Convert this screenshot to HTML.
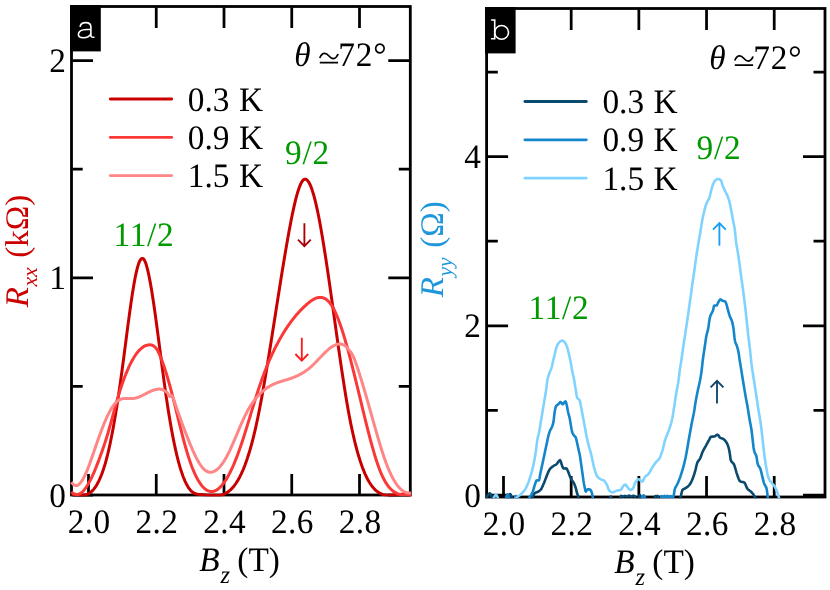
<!DOCTYPE html>
<html><head><meta charset="utf-8"><title>Figure</title>
<style>
html,body{margin:0;padding:0;background:#fff;}
svg{display:block;will-change:transform;}
text{font-family:"Liberation Serif",serif;text-rendering:geometricPrecision;}
text.m{font-family:"Liberation Mono",monospace;}
</style></head><body>
<svg width="830" height="590" viewBox="0 0 830 590">
<rect width="830" height="590" fill="#fff"/>
<defs><clipPath id="ca"><rect x="70" y="5" width="342" height="491.5"/></clipPath><clipPath id="cb"><rect x="485.2" y="7" width="341.2" height="491.2"/></clipPath></defs>
<rect x="71.5" y="6.5" width="338.8" height="488.5" fill="none" stroke="#000" stroke-width="2.8"/>
<rect x="486.6" y="8.5" width="338.4" height="488.5" fill="none" stroke="#000" stroke-width="2.8"/>
<path d="M88.50,7.5V28.0M88.50,494V474M156.25,7.5V28.0M156.25,494V474M224.00,7.5V28.0M224.00,494V474M291.75,7.5V28.0M291.75,494V474M359.50,7.5V28.0M359.50,494V474M72.5,495.00H93.0M409.3,495.00H388.3M72.5,277.75H93.0M409.3,277.75H388.3M72.5,60.50H93.0M409.3,60.50H388.3M72.5,386.40H82.7M409.3,386.40H398.8M72.5,169.10H82.7M409.3,169.10H398.8" stroke="#000" stroke-width="2.75" fill="none"/>
<path d="M503.50,9.5V30.0M503.50,496V476M571.18,9.5V30.0M571.18,496V476M638.86,9.5V30.0M638.86,496V476M706.54,9.5V30.0M706.54,496V476M774.22,9.5V30.0M774.22,496V476M487.6,495.00H508.1M824.0,495.00H803.0M487.6,325.80H508.1M824.0,325.80H803.0M487.6,156.60H508.1M824.0,156.60H803.0M487.6,410.40H497.8M824.0,410.40H813.5M487.6,241.20H497.8M824.0,241.20H813.5M487.6,72.00H497.8M824.0,72.00H813.5" stroke="#000" stroke-width="2.75" fill="none"/>
<g clip-path="url(#ca)" fill="none" stroke-width="3" stroke-linejoin="round">
<path d="M71.5,494.3 L72.0,494.4 L72.5,494.4 L73.0,494.5 L73.5,494.5 L74.0,494.6 L74.5,494.6 L75.0,494.7 L75.5,494.8 L76.0,494.8 L76.5,494.9 L77.0,495.0 L77.5,495.0 L78.0,495.1 L78.5,495.2 L79.0,495.2 L79.5,495.2 L80.0,495.2 L80.5,495.2 L81.0,495.2 L81.5,495.2 L82.0,495.2 L82.5,495.2 L83.0,495.2 L83.5,495.2 L84.0,495.1 L84.5,495.1 L85.0,495.0 L85.5,494.8 L86.0,494.7 L86.5,494.5 L87.0,494.4 L87.5,494.1 L88.0,493.9 L88.5,493.7 L89.0,493.4 L89.5,493.1 L90.0,492.7 L90.5,492.4 L91.0,492.0 L91.5,491.5 L92.0,491.1 L92.5,490.6 L93.0,490.0 L93.5,489.5 L94.0,488.9 L94.5,488.2 L95.0,487.6 L95.5,486.8 L96.0,486.1 L96.5,485.3 L97.0,484.4 L97.5,483.5 L98.0,482.6 L98.5,481.6 L99.0,480.6 L99.5,479.5 L100.0,478.4 L100.5,477.2 L101.0,476.0 L101.5,474.8 L102.0,473.4 L102.5,472.0 L103.0,470.6 L103.5,469.1 L104.0,467.6 L104.5,466.0 L105.0,464.3 L105.5,462.6 L106.0,460.8 L106.5,458.9 L107.0,457.0 L107.5,455.0 L108.0,453.0 L108.5,450.9 L109.0,448.7 L109.5,446.5 L110.0,444.2 L110.5,441.8 L111.0,439.3 L111.5,436.8 L112.0,434.2 L112.5,431.6 L113.0,428.9 L113.5,426.2 L114.0,423.3 L114.5,420.5 L115.0,417.5 L115.5,414.5 L116.0,411.5 L116.5,408.4 L117.0,405.2 L117.5,402.0 L118.0,398.7 L118.5,395.4 L119.0,392.0 L119.5,388.6 L120.0,385.1 L120.5,381.6 L121.0,378.0 L121.5,374.4 L122.0,370.7 L122.5,367.0 L123.0,363.3 L123.5,359.5 L124.0,355.6 L124.5,351.8 L125.0,347.9 L125.5,344.1 L126.0,340.2 L126.5,336.3 L127.0,332.5 L127.5,328.6 L128.0,324.8 L128.5,321.1 L129.0,317.4 L129.5,313.7 L130.0,310.1 L130.5,306.5 L131.0,303.0 L131.5,299.6 L132.0,296.3 L132.5,293.0 L133.0,289.9 L133.5,286.9 L134.0,284.0 L134.5,281.2 L135.0,278.5 L135.5,276.0 L136.0,273.6 L136.5,271.4 L137.0,269.3 L137.5,267.4 L138.0,265.7 L138.5,264.1 L139.0,262.7 L139.5,261.5 L140.0,260.5 L140.5,259.7 L141.0,259.1 L141.5,258.6 L142.0,258.4 L142.5,258.4 L143.0,258.6 L143.5,258.9 L144.0,259.5 L144.5,260.4 L145.0,261.4 L145.5,262.6 L146.0,264.0 L146.5,265.6 L147.0,267.3 L147.5,269.3 L148.0,271.4 L148.5,273.6 L149.0,276.0 L149.5,278.5 L150.0,281.1 L150.5,283.8 L151.0,286.7 L151.5,289.6 L152.0,292.7 L152.5,295.9 L153.0,299.1 L153.5,302.4 L154.0,305.8 L154.5,309.3 L155.0,312.8 L155.5,316.4 L156.0,320.1 L156.5,323.8 L157.0,327.5 L157.5,331.3 L158.0,335.1 L158.5,338.9 L159.0,342.7 L159.5,346.6 L160.0,350.4 L160.5,354.3 L161.0,358.2 L161.5,362.0 L162.0,365.8 L162.5,369.6 L163.0,373.4 L163.5,377.1 L164.0,380.9 L164.5,384.5 L165.0,388.1 L165.5,391.7 L166.0,395.2 L166.5,398.6 L167.0,401.9 L167.5,405.2 L168.0,408.5 L168.5,411.7 L169.0,414.8 L169.5,417.8 L170.0,420.8 L170.5,423.7 L171.0,426.6 L171.5,429.4 L172.0,432.1 L172.5,434.8 L173.0,437.4 L173.5,439.9 L174.0,442.4 L174.5,444.8 L175.0,447.1 L175.5,449.4 L176.0,451.6 L176.5,453.8 L177.0,455.9 L177.5,457.9 L178.0,459.9 L178.5,461.8 L179.0,463.6 L179.5,465.4 L180.0,467.1 L180.5,468.8 L181.0,470.4 L181.5,471.9 L182.0,473.4 L182.5,474.8 L183.0,476.2 L183.5,477.5 L184.0,478.7 L184.5,479.9 L185.0,481.1 L185.5,482.2 L186.0,483.2 L186.5,484.2 L187.0,485.1 L187.5,486.0 L188.0,486.8 L188.5,487.6 L189.0,488.3 L189.5,489.0 L190.0,489.6 L190.5,490.2 L191.0,490.7 L191.5,491.2 L192.0,491.7 L192.5,492.1 L193.0,492.4 L193.5,492.7 L194.0,493.0 L194.5,493.3 L195.0,493.5 L195.5,493.7 L196.0,493.9 L196.5,494.0 L197.0,494.1 L197.5,494.2 L198.0,494.3 L198.5,494.4 L199.0,494.4 L199.5,494.5 L200.0,494.5 L200.5,494.5 L201.0,494.6 L201.5,494.6 L202.0,494.6 L202.5,494.7 L203.0,494.7 L203.5,494.7 L204.0,494.8 L204.5,494.8 L205.0,494.9 L205.5,495.0 L206.0,495.0 L206.5,495.1 L207.0,495.1 L207.5,495.2 L208.0,495.2 L208.5,495.2 L209.0,495.2 L209.5,495.2 L210.0,495.2 L210.5,495.2 L211.0,495.2 L211.5,495.2 L212.0,495.2 L212.5,495.2 L213.0,495.2 L213.5,495.2 L214.0,495.2 L214.5,495.2 L215.0,495.2 L215.5,495.2 L216.0,495.2 L216.5,495.2 L217.0,495.2 L217.5,495.2 L218.0,495.2 L218.5,495.2 L219.0,495.2 L219.5,495.2 L220.0,495.2 L220.5,495.2 L221.0,495.1 L221.5,495.0 L222.0,494.9 L222.5,494.7 L223.0,494.5 L223.5,494.3 L224.0,494.1 L224.5,493.9 L225.0,493.7 L225.5,493.4 L226.0,493.2 L226.5,492.9 L227.0,492.6 L227.5,492.2 L228.0,491.9 L228.5,491.5 L229.0,491.1 L229.5,490.7 L230.0,490.3 L230.5,489.9 L231.0,489.4 L231.5,488.9 L232.0,488.4 L232.5,487.8 L233.0,487.2 L233.5,486.7 L234.0,486.0 L234.5,485.4 L235.0,484.7 L235.5,484.0 L236.0,483.3 L236.5,482.5 L237.0,481.7 L237.5,480.9 L238.0,480.1 L238.5,479.2 L239.0,478.3 L239.5,477.4 L240.0,476.4 L240.5,475.4 L241.0,474.4 L241.5,473.3 L242.0,472.2 L242.5,471.1 L243.0,470.0 L243.5,468.8 L244.0,467.5 L244.5,466.3 L245.0,465.0 L245.5,463.6 L246.0,462.2 L246.5,460.8 L247.0,459.4 L247.5,457.9 L248.0,456.3 L248.5,454.8 L249.0,453.2 L249.5,451.5 L250.0,449.8 L250.5,448.1 L251.0,446.3 L251.5,444.5 L252.0,442.6 L252.5,440.7 L253.0,438.8 L253.5,436.8 L254.0,434.7 L254.5,432.6 L255.0,430.5 L255.5,428.3 L256.0,426.1 L256.5,423.8 L257.0,421.5 L257.5,419.1 L258.0,416.7 L258.5,414.3 L259.0,411.8 L259.5,409.2 L260.0,406.6 L260.5,404.0 L261.0,401.4 L261.5,398.7 L262.0,395.9 L262.5,393.2 L263.0,390.4 L263.5,387.6 L264.0,384.7 L264.5,381.8 L265.0,378.9 L265.5,376.0 L266.0,373.0 L266.5,370.0 L267.0,367.0 L267.5,364.0 L268.0,360.9 L268.5,357.9 L269.0,354.8 L269.5,351.7 L270.0,348.6 L270.5,345.4 L271.0,342.3 L271.5,339.1 L272.0,336.0 L272.5,332.8 L273.0,329.6 L273.5,326.4 L274.0,323.3 L274.5,320.1 L275.0,316.9 L275.5,313.7 L276.0,310.5 L276.5,307.3 L277.0,304.1 L277.5,300.9 L278.0,297.7 L278.5,294.5 L279.0,291.4 L279.5,288.2 L280.0,285.1 L280.5,281.9 L281.0,278.8 L281.5,275.7 L282.0,272.6 L282.5,269.5 L283.0,266.5 L283.5,263.4 L284.0,260.4 L284.5,257.4 L285.0,254.4 L285.5,251.5 L286.0,248.6 L286.5,245.7 L287.0,242.8 L287.5,239.9 L288.0,237.1 L288.5,234.4 L289.0,231.6 L289.5,228.9 L290.0,226.2 L290.5,223.6 L291.0,221.0 L291.5,218.5 L292.0,216.0 L292.5,213.5 L293.0,211.2 L293.5,208.9 L294.0,206.6 L294.5,204.4 L295.0,202.3 L295.5,200.2 L296.0,198.3 L296.5,196.4 L297.0,194.6 L297.5,192.8 L298.0,191.2 L298.5,189.7 L299.0,188.2 L299.5,186.8 L300.0,185.6 L300.5,184.4 L301.0,183.4 L301.5,182.4 L302.0,181.6 L302.5,180.9 L303.0,180.3 L303.5,179.8 L304.0,179.5 L304.5,179.3 L305.0,179.2 L305.5,179.2 L306.0,179.4 L306.5,179.6 L307.0,180.0 L307.5,180.5 L308.0,181.1 L308.5,181.8 L309.0,182.6 L309.5,183.5 L310.0,184.5 L310.5,185.7 L311.0,186.9 L311.5,188.2 L312.0,189.6 L312.5,191.1 L313.0,192.7 L313.5,194.4 L314.0,196.2 L314.5,198.1 L315.0,200.0 L315.5,202.0 L316.0,204.1 L316.5,206.3 L317.0,208.6 L317.5,210.9 L318.0,213.3 L318.5,215.8 L319.0,218.3 L319.5,220.9 L320.0,223.6 L320.5,226.3 L321.0,229.1 L321.5,232.0 L322.0,234.9 L322.5,237.8 L323.0,240.9 L323.5,243.9 L324.0,247.0 L324.5,250.2 L325.0,253.4 L325.5,256.6 L326.0,259.8 L326.5,263.2 L327.0,266.5 L327.5,269.9 L328.0,273.3 L328.5,276.7 L329.0,280.1 L329.5,283.6 L330.0,287.1 L330.5,290.6 L331.0,294.1 L331.5,297.7 L332.0,301.2 L332.5,304.8 L333.0,308.4 L333.5,312.0 L334.0,315.6 L334.5,319.1 L335.0,322.7 L335.5,326.3 L336.0,329.9 L336.5,333.5 L337.0,337.0 L337.5,340.6 L338.0,344.1 L338.5,347.7 L339.0,351.2 L339.5,354.6 L340.0,358.1 L340.5,361.6 L341.0,365.0 L341.5,368.4 L342.0,371.7 L342.5,375.0 L343.0,378.3 L343.5,381.6 L344.0,384.8 L344.5,388.0 L345.0,391.1 L345.5,394.2 L346.0,397.2 L346.5,400.2 L347.0,403.2 L347.5,406.1 L348.0,408.9 L348.5,411.7 L349.0,414.4 L349.5,417.0 L350.0,419.6 L350.5,422.2 L351.0,424.7 L351.5,427.1 L352.0,429.5 L352.5,431.8 L353.0,434.0 L353.5,436.2 L354.0,438.4 L354.5,440.5 L355.0,442.6 L355.5,444.6 L356.0,446.5 L356.5,448.4 L357.0,450.3 L357.5,452.1 L358.0,453.8 L358.5,455.5 L359.0,457.2 L359.5,458.8 L360.0,460.4 L360.5,461.9 L361.0,463.4 L361.5,464.8 L362.0,466.2 L362.5,467.6 L363.0,468.9 L363.5,470.2 L364.0,471.4 L364.5,472.6 L365.0,473.8 L365.5,474.9 L366.0,476.0 L366.5,477.0 L367.0,478.0 L367.5,479.0 L368.0,479.9 L368.5,480.8 L369.0,481.7 L369.5,482.5 L370.0,483.3 L370.5,484.0 L371.0,484.8 L371.5,485.5 L372.0,486.2 L372.5,486.8 L373.0,487.4 L373.5,488.0 L374.0,488.5 L374.5,489.1 L375.0,489.6 L375.5,490.1 L376.0,490.5 L376.5,490.9 L377.0,491.3 L377.5,491.7 L378.0,492.1 L378.5,492.4 L379.0,492.7 L379.5,493.0 L380.0,493.3 L380.5,493.5 L381.0,493.7 L381.5,494.0 L382.0,494.1 L382.5,494.3 L383.0,494.5 L383.5,494.6 L384.0,494.8 L384.5,494.9 L385.0,495.0 L385.5,495.0 L386.0,495.1 L386.5,495.2 L387.0,495.2 L387.5,495.2 L388.0,495.2 L388.5,495.2 L389.0,495.2 L389.5,495.2 L390.0,495.2 L390.5,495.2 L391.0,495.2 L391.5,495.2 L392.0,495.2 L392.5,495.2 L393.0,495.1 L393.5,495.1 L394.0,495.0 L394.5,495.0 L395.0,494.9 L395.5,494.8 L396.0,494.8 L396.5,494.7 L397.0,494.7 L397.5,494.6 L398.0,494.6 L398.5,494.5 L399.0,494.5 L399.5,494.4 L400.0,494.4 L400.5,494.4 L401.0,494.3 L401.5,494.3 L402.0,494.3 L402.5,494.3 L403.0,494.3 L403.5,494.3 L404.0,494.3 L404.5,494.3 L405.0,494.4 L405.5,494.4 L406.0,494.5 L406.5,494.6 L407.0,494.6 L407.5,494.8 L408.0,494.9 L408.5,495.0 L409.0,495.1 L409.5,495.2 L410.0,495.2 L410.5,495.2 L411.0,495.2" stroke="#c80000"/>
<path d="M71.5,491.8 L72.0,492.3 L72.5,492.8 L73.0,493.1 L73.5,493.5 L74.0,493.8 L74.5,494.0 L75.0,494.2 L75.5,494.3 L76.0,494.4 L76.5,494.5 L77.0,494.5 L77.5,494.4 L78.0,494.4 L78.5,494.2 L79.0,494.1 L79.5,493.8 L80.0,493.6 L80.5,493.3 L81.0,493.0 L81.5,492.6 L82.0,492.2 L82.5,491.7 L83.0,491.2 L83.5,490.7 L84.0,490.1 L84.5,489.5 L85.0,488.9 L85.5,488.2 L86.0,487.5 L86.5,486.8 L87.0,486.0 L87.5,485.2 L88.0,484.4 L88.5,483.5 L89.0,482.6 L89.5,481.7 L90.0,480.8 L90.5,479.8 L91.0,478.8 L91.5,477.8 L92.0,476.7 L92.5,475.6 L93.0,474.5 L93.5,473.4 L94.0,472.3 L94.5,471.1 L95.0,469.9 L95.5,468.7 L96.0,467.5 L96.5,466.2 L97.0,464.9 L97.5,463.7 L98.0,462.4 L98.5,461.0 L99.0,459.7 L99.5,458.3 L100.0,457.0 L100.5,455.6 L101.0,454.2 L101.5,452.8 L102.0,451.4 L102.5,450.0 L103.0,448.5 L103.5,447.1 L104.0,445.6 L104.5,444.1 L105.0,442.6 L105.5,441.1 L106.0,439.5 L106.5,437.9 L107.0,436.3 L107.5,434.6 L108.0,433.0 L108.5,431.2 L109.0,429.5 L109.5,427.7 L110.0,425.9 L110.5,424.1 L111.0,422.3 L111.5,420.5 L112.0,418.6 L112.5,416.8 L113.0,415.0 L113.5,413.1 L114.0,411.3 L114.5,409.4 L115.0,407.6 L115.5,405.8 L116.0,404.0 L116.5,402.2 L117.0,400.5 L117.5,398.8 L118.0,397.1 L118.5,395.4 L119.0,393.8 L119.5,392.1 L120.0,390.6 L120.5,389.0 L121.0,387.5 L121.5,386.0 L122.0,384.5 L122.5,383.0 L123.0,381.6 L123.5,380.2 L124.0,378.9 L124.5,377.5 L125.0,376.2 L125.5,375.0 L126.0,373.7 L126.5,372.5 L127.0,371.3 L127.5,370.1 L128.0,369.0 L128.5,367.8 L129.0,366.7 L129.5,365.7 L130.0,364.6 L130.5,363.6 L131.0,362.7 L131.5,361.7 L132.0,360.8 L132.5,359.9 L133.0,359.0 L133.5,358.2 L134.0,357.3 L134.5,356.5 L135.0,355.8 L135.5,355.0 L136.0,354.3 L136.5,353.6 L137.0,353.0 L137.5,352.3 L138.0,351.7 L138.5,351.1 L139.0,350.6 L139.5,350.1 L140.0,349.5 L140.5,349.1 L141.0,348.6 L141.5,348.2 L142.0,347.8 L142.5,347.4 L143.0,347.1 L143.5,346.7 L144.0,346.4 L144.5,346.2 L145.0,345.9 L145.5,345.7 L146.0,345.5 L146.5,345.3 L147.0,345.2 L147.5,345.1 L148.0,345.0 L148.5,344.9 L149.0,344.9 L149.5,344.8 L150.0,344.8 L150.5,344.9 L151.0,344.9 L151.5,345.0 L152.0,345.2 L152.5,345.3 L153.0,345.6 L153.5,345.9 L154.0,346.2 L154.5,346.6 L155.0,347.0 L155.5,347.6 L156.0,348.2 L156.5,348.8 L157.0,349.6 L157.5,350.4 L158.0,351.3 L158.5,352.3 L159.0,353.4 L159.5,354.5 L160.0,355.7 L160.5,356.9 L161.0,358.1 L161.5,359.4 L162.0,360.7 L162.5,362.0 L163.0,363.4 L163.5,364.9 L164.0,366.3 L164.5,367.8 L165.0,369.4 L165.5,370.9 L166.0,372.5 L166.5,374.2 L167.0,375.8 L167.5,377.5 L168.0,379.2 L168.5,381.0 L169.0,382.7 L169.5,384.5 L170.0,386.3 L170.5,388.2 L171.0,390.0 L171.5,391.9 L172.0,393.9 L172.5,395.8 L173.0,397.7 L173.5,399.7 L174.0,401.7 L174.5,403.7 L175.0,405.7 L175.5,407.7 L176.0,409.7 L176.5,411.8 L177.0,413.8 L177.5,415.8 L178.0,417.9 L178.5,419.9 L179.0,421.9 L179.5,423.9 L180.0,426.0 L180.5,428.0 L181.0,429.9 L181.5,431.9 L182.0,433.9 L182.5,435.8 L183.0,437.7 L183.5,439.6 L184.0,441.5 L184.5,443.4 L185.0,445.2 L185.5,447.0 L186.0,448.7 L186.5,450.5 L187.0,452.2 L187.5,453.8 L188.0,455.4 L188.5,457.0 L189.0,458.5 L189.5,460.0 L190.0,461.5 L190.5,462.9 L191.0,464.3 L191.5,465.7 L192.0,467.0 L192.5,468.3 L193.0,469.5 L193.5,470.7 L194.0,471.9 L194.5,473.0 L195.0,474.1 L195.5,475.2 L196.0,476.2 L196.5,477.2 L197.0,478.2 L197.5,479.1 L198.0,480.0 L198.5,480.8 L199.0,481.7 L199.5,482.4 L200.0,483.2 L200.5,483.9 L201.0,484.6 L201.5,485.3 L202.0,485.9 L202.5,486.5 L203.0,487.0 L203.5,487.5 L204.0,488.0 L204.5,488.5 L205.0,488.9 L205.5,489.3 L206.0,489.6 L206.5,490.0 L207.0,490.3 L207.5,490.5 L208.0,490.8 L208.5,491.0 L209.0,491.1 L209.5,491.3 L210.0,491.4 L210.5,491.5 L211.0,491.5 L211.5,491.5 L212.0,491.5 L212.5,491.5 L213.0,491.4 L213.5,491.3 L214.0,491.2 L214.5,491.0 L215.0,490.8 L215.5,490.6 L216.0,490.3 L216.5,490.1 L217.0,489.8 L217.5,489.4 L218.0,489.1 L218.5,488.7 L219.0,488.3 L219.5,487.8 L220.0,487.4 L220.5,486.9 L221.0,486.3 L221.5,485.8 L222.0,485.2 L222.5,484.6 L223.0,484.0 L223.5,483.3 L224.0,482.7 L224.5,481.9 L225.0,481.2 L225.5,480.5 L226.0,479.7 L226.5,478.9 L227.0,478.0 L227.5,477.2 L228.0,476.3 L228.5,475.4 L229.0,474.4 L229.5,473.5 L230.0,472.5 L230.5,471.5 L231.0,470.5 L231.5,469.4 L232.0,468.4 L232.5,467.3 L233.0,466.1 L233.5,465.0 L234.0,463.8 L234.5,462.6 L235.0,461.4 L235.5,460.2 L236.0,458.9 L236.5,457.7 L237.0,456.4 L237.5,455.1 L238.0,453.7 L238.5,452.4 L239.0,451.0 L239.5,449.6 L240.0,448.1 L240.5,446.7 L241.0,445.2 L241.5,443.8 L242.0,442.3 L242.5,440.7 L243.0,439.2 L243.5,437.7 L244.0,436.1 L244.5,434.5 L245.0,432.9 L245.5,431.3 L246.0,429.7 L246.5,428.1 L247.0,426.5 L247.5,424.9 L248.0,423.2 L248.5,421.6 L249.0,420.0 L249.5,418.3 L250.0,416.7 L250.5,415.0 L251.0,413.4 L251.5,411.7 L252.0,410.1 L252.5,408.4 L253.0,406.8 L253.5,405.2 L254.0,403.5 L254.5,401.9 L255.0,400.3 L255.5,398.7 L256.0,397.1 L256.5,395.5 L257.0,393.9 L257.5,392.4 L258.0,390.8 L258.5,389.3 L259.0,387.8 L259.5,386.3 L260.0,384.8 L260.5,383.4 L261.0,381.9 L261.5,380.5 L262.0,379.1 L262.5,377.7 L263.0,376.3 L263.5,375.0 L264.0,373.6 L264.5,372.3 L265.0,371.0 L265.5,369.7 L266.0,368.5 L266.5,367.2 L267.0,366.0 L267.5,364.8 L268.0,363.6 L268.5,362.4 L269.0,361.2 L269.5,360.0 L270.0,358.9 L270.5,357.8 L271.0,356.7 L271.5,355.6 L272.0,354.5 L272.5,353.4 L273.0,352.3 L273.5,351.3 L274.0,350.3 L274.5,349.2 L275.0,348.2 L275.5,347.2 L276.0,346.2 L276.5,345.3 L277.0,344.3 L277.5,343.4 L278.0,342.4 L278.5,341.5 L279.0,340.6 L279.5,339.7 L280.0,338.8 L280.5,337.9 L281.0,337.0 L281.5,336.2 L282.0,335.3 L282.5,334.5 L283.0,333.6 L283.5,332.8 L284.0,332.0 L284.5,331.2 L285.0,330.4 L285.5,329.7 L286.0,328.9 L286.5,328.1 L287.0,327.4 L287.5,326.6 L288.0,325.9 L288.5,325.2 L289.0,324.5 L289.5,323.8 L290.0,323.1 L290.5,322.4 L291.0,321.7 L291.5,321.0 L292.0,320.4 L292.5,319.7 L293.0,319.1 L293.5,318.5 L294.0,317.8 L294.5,317.2 L295.0,316.6 L295.5,316.0 L296.0,315.4 L296.5,314.8 L297.0,314.3 L297.5,313.7 L298.0,313.1 L298.5,312.6 L299.0,312.0 L299.5,311.5 L300.0,310.9 L300.5,310.4 L301.0,309.9 L301.5,309.4 L302.0,308.9 L302.5,308.4 L303.0,307.9 L303.5,307.4 L304.0,306.9 L304.5,306.4 L305.0,306.0 L305.5,305.5 L306.0,305.1 L306.5,304.6 L307.0,304.2 L307.5,303.7 L308.0,303.3 L308.5,302.9 L309.0,302.5 L309.5,302.1 L310.0,301.7 L310.5,301.3 L311.0,301.0 L311.5,300.6 L312.0,300.3 L312.5,300.0 L313.0,299.6 L313.5,299.4 L314.0,299.1 L314.5,298.8 L315.0,298.6 L315.5,298.4 L316.0,298.2 L316.5,298.0 L317.0,297.8 L317.5,297.7 L318.0,297.6 L318.5,297.5 L319.0,297.4 L319.5,297.4 L320.0,297.4 L320.5,297.4 L321.0,297.4 L321.5,297.4 L322.0,297.5 L322.5,297.6 L323.0,297.8 L323.5,298.0 L324.0,298.2 L324.5,298.4 L325.0,298.7 L325.5,298.9 L326.0,299.3 L326.5,299.6 L327.0,300.0 L327.5,300.5 L328.0,300.9 L328.5,301.4 L329.0,302.0 L329.5,302.5 L330.0,303.2 L330.5,303.8 L331.0,304.5 L331.5,305.2 L332.0,306.0 L332.5,306.8 L333.0,307.7 L333.5,308.6 L334.0,309.5 L334.5,310.5 L335.0,311.5 L335.5,312.6 L336.0,313.7 L336.5,314.9 L337.0,316.0 L337.5,317.3 L338.0,318.5 L338.5,319.8 L339.0,321.2 L339.5,322.5 L340.0,323.9 L340.5,325.3 L341.0,326.8 L341.5,328.3 L342.0,329.8 L342.5,331.4 L343.0,333.0 L343.5,334.6 L344.0,336.2 L344.5,337.9 L345.0,339.5 L345.5,341.3 L346.0,343.0 L346.5,344.7 L347.0,346.5 L347.5,348.3 L348.0,350.2 L348.5,352.0 L349.0,353.9 L349.5,355.7 L350.0,357.6 L350.5,359.5 L351.0,361.5 L351.5,363.4 L352.0,365.4 L352.5,367.3 L353.0,369.3 L353.5,371.3 L354.0,373.3 L354.5,375.3 L355.0,377.4 L355.5,379.4 L356.0,381.4 L356.5,383.5 L357.0,385.5 L357.5,387.6 L358.0,389.7 L358.5,391.7 L359.0,393.8 L359.5,395.9 L360.0,397.9 L360.5,400.0 L361.0,402.1 L361.5,404.2 L362.0,406.2 L362.5,408.3 L363.0,410.4 L363.5,412.4 L364.0,414.5 L364.5,416.5 L365.0,418.5 L365.5,420.6 L366.0,422.6 L366.5,424.6 L367.0,426.6 L367.5,428.6 L368.0,430.6 L368.5,432.5 L369.0,434.4 L369.5,436.4 L370.0,438.3 L370.5,440.1 L371.0,442.0 L371.5,443.8 L372.0,445.6 L372.5,447.4 L373.0,449.2 L373.5,450.9 L374.0,452.6 L374.5,454.3 L375.0,456.0 L375.5,457.6 L376.0,459.2 L376.5,460.7 L377.0,462.3 L377.5,463.7 L378.0,465.2 L378.5,466.6 L379.0,468.0 L379.5,469.3 L380.0,470.6 L380.5,471.8 L381.0,473.0 L381.5,474.2 L382.0,475.3 L382.5,476.4 L383.0,477.4 L383.5,478.4 L384.0,479.4 L384.5,480.3 L385.0,481.2 L385.5,482.1 L386.0,482.9 L386.5,483.7 L387.0,484.4 L387.5,485.1 L388.0,485.8 L388.5,486.5 L389.0,487.1 L389.5,487.7 L390.0,488.2 L390.5,488.8 L391.0,489.3 L391.5,489.7 L392.0,490.2 L392.5,490.6 L393.0,491.0 L393.5,491.4 L394.0,491.7 L394.5,492.1 L395.0,492.4 L395.5,492.7 L396.0,492.9 L396.5,493.2 L397.0,493.4 L397.5,493.6 L398.0,493.8 L398.5,494.0 L399.0,494.1 L399.5,494.3 L400.0,494.4 L400.5,494.5 L401.0,494.6 L401.5,494.7 L402.0,494.8 L402.5,494.9 L403.0,494.9 L403.5,495.0 L404.0,495.0 L404.5,495.1 L405.0,495.1 L405.5,495.1 L406.0,495.1 L406.5,495.1 L407.0,495.1 L407.5,495.1 L408.0,495.1 L408.5,495.1 L409.0,495.1 L409.5,495.1 L410.0,495.1 L410.5,495.1 L411.0,495.1" stroke="#fa3838"/>
<path d="M71.5,482.1 L72.0,482.9 L72.5,483.5 L73.0,484.1 L73.5,484.5 L74.0,484.9 L74.5,485.2 L75.0,485.4 L75.5,485.6 L76.0,485.6 L76.5,485.6 L77.0,485.5 L77.5,485.3 L78.0,485.0 L78.5,484.7 L79.0,484.3 L79.5,483.9 L80.0,483.4 L80.5,482.8 L81.0,482.1 L81.5,481.4 L82.0,480.7 L82.5,479.9 L83.0,479.0 L83.5,478.1 L84.0,477.2 L84.5,476.2 L85.0,475.1 L85.5,474.0 L86.0,472.9 L86.5,471.8 L87.0,470.6 L87.5,469.3 L88.0,468.1 L88.5,466.8 L89.0,465.5 L89.5,464.2 L90.0,462.8 L90.5,461.4 L91.0,460.0 L91.5,458.6 L92.0,457.2 L92.5,455.8 L93.0,454.3 L93.5,452.9 L94.0,451.4 L94.5,449.9 L95.0,448.5 L95.5,447.0 L96.0,445.6 L96.5,444.1 L97.0,442.6 L97.5,441.2 L98.0,439.8 L98.5,438.4 L99.0,437.0 L99.5,435.6 L100.0,434.2 L100.5,432.8 L101.0,431.5 L101.5,430.2 L102.0,428.9 L102.5,427.6 L103.0,426.3 L103.5,425.1 L104.0,423.8 L104.5,422.6 L105.0,421.4 L105.5,420.3 L106.0,419.2 L106.5,418.0 L107.0,417.0 L107.5,415.9 L108.0,414.9 L108.5,413.8 L109.0,412.9 L109.5,411.9 L110.0,411.0 L110.5,410.1 L111.0,409.2 L111.5,408.4 L112.0,407.6 L112.5,406.8 L113.0,406.1 L113.5,405.4 L114.0,404.7 L114.5,404.1 L115.0,403.5 L115.5,403.0 L116.0,402.4 L116.5,402.0 L117.0,401.5 L117.5,401.1 L118.0,400.7 L118.5,400.4 L119.0,400.1 L119.5,399.8 L120.0,399.6 L120.5,399.4 L121.0,399.2 L121.5,399.0 L122.0,398.9 L122.5,398.8 L123.0,398.7 L123.5,398.6 L124.0,398.6 L124.5,398.5 L125.0,398.5 L125.5,398.5 L126.0,398.5 L126.5,398.5 L127.0,398.5 L127.5,398.5 L128.0,398.5 L128.5,398.5 L129.0,398.6 L129.5,398.6 L130.0,398.6 L130.5,398.6 L131.0,398.6 L131.5,398.6 L132.0,398.6 L132.5,398.6 L133.0,398.5 L133.5,398.5 L134.0,398.4 L134.5,398.3 L135.0,398.2 L135.5,398.1 L136.0,398.0 L136.5,397.8 L137.0,397.7 L137.5,397.5 L138.0,397.3 L138.5,397.2 L139.0,397.0 L139.5,396.8 L140.0,396.5 L140.5,396.3 L141.0,396.1 L141.5,395.8 L142.0,395.6 L142.5,395.4 L143.0,395.1 L143.5,394.8 L144.0,394.6 L144.5,394.3 L145.0,394.1 L145.5,393.8 L146.0,393.5 L146.5,393.3 L147.0,393.0 L147.5,392.8 L148.0,392.5 L148.5,392.3 L149.0,392.0 L149.5,391.8 L150.0,391.6 L150.5,391.3 L151.0,391.1 L151.5,390.9 L152.0,390.7 L152.5,390.5 L153.0,390.3 L153.5,390.1 L154.0,390.0 L154.5,389.8 L155.0,389.7 L155.5,389.6 L156.0,389.5 L156.5,389.4 L157.0,389.3 L157.5,389.2 L158.0,389.2 L158.5,389.1 L159.0,389.1 L159.5,389.1 L160.0,389.1 L160.5,389.2 L161.0,389.2 L161.5,389.3 L162.0,389.5 L162.5,389.6 L163.0,389.9 L163.5,390.2 L164.0,390.5 L164.5,390.9 L165.0,391.2 L165.5,391.4 L166.0,391.6 L166.5,391.8 L167.0,392.3 L167.5,393.0 L168.0,394.0 L168.5,395.1 L169.0,396.0 L169.5,396.5 L170.0,396.4 L170.5,395.9 L171.0,395.4 L171.5,395.4 L172.0,395.8 L172.5,396.6 L173.0,397.6 L173.5,398.9 L174.0,400.3 L174.5,401.8 L175.0,403.3 L175.5,404.7 L176.0,406.2 L176.5,407.7 L177.0,409.1 L177.5,410.6 L178.0,412.0 L178.5,413.4 L179.0,414.8 L179.5,416.2 L180.0,417.6 L180.5,419.0 L181.0,420.4 L181.5,421.8 L182.0,423.2 L182.5,424.5 L183.0,425.9 L183.5,427.2 L184.0,428.6 L184.5,429.9 L185.0,431.2 L185.5,432.5 L186.0,433.8 L186.5,435.1 L187.0,436.4 L187.5,437.6 L188.0,438.9 L188.5,440.2 L189.0,441.4 L189.5,442.6 L190.0,443.8 L190.5,445.1 L191.0,446.2 L191.5,447.4 L192.0,448.6 L192.5,449.7 L193.0,450.9 L193.5,452.0 L194.0,453.0 L194.5,454.1 L195.0,455.2 L195.5,456.2 L196.0,457.2 L196.5,458.2 L197.0,459.1 L197.5,460.0 L198.0,460.9 L198.5,461.8 L199.0,462.7 L199.5,463.5 L200.0,464.2 L200.5,465.0 L201.0,465.7 L201.5,466.4 L202.0,467.0 L202.5,467.7 L203.0,468.2 L203.5,468.8 L204.0,469.3 L204.5,469.7 L205.0,470.1 L205.5,470.5 L206.0,470.9 L206.5,471.2 L207.0,471.4 L207.5,471.7 L208.0,471.8 L208.5,472.0 L209.0,472.1 L209.5,472.2 L210.0,472.2 L210.5,472.2 L211.0,472.2 L211.5,472.2 L212.0,472.1 L212.5,472.0 L213.0,471.8 L213.5,471.6 L214.0,471.4 L214.5,471.2 L215.0,470.9 L215.5,470.6 L216.0,470.3 L216.5,469.9 L217.0,469.5 L217.5,469.1 L218.0,468.7 L218.5,468.2 L219.0,467.7 L219.5,467.2 L220.0,466.6 L220.5,466.0 L221.0,465.4 L221.5,464.8 L222.0,464.1 L222.5,463.4 L223.0,462.7 L223.5,462.0 L224.0,461.2 L224.5,460.4 L225.0,459.6 L225.5,458.7 L226.0,457.9 L226.5,457.0 L227.0,456.0 L227.5,455.1 L228.0,454.1 L228.5,453.1 L229.0,452.1 L229.5,451.1 L230.0,450.0 L230.5,448.9 L231.0,447.8 L231.5,446.7 L232.0,445.6 L232.5,444.5 L233.0,443.4 L233.5,442.2 L234.0,441.0 L234.5,439.9 L235.0,438.7 L235.5,437.5 L236.0,436.3 L236.5,435.2 L237.0,434.0 L237.5,432.8 L238.0,431.6 L238.5,430.4 L239.0,429.2 L239.5,428.1 L240.0,426.9 L240.5,425.7 L241.0,424.6 L241.5,423.4 L242.0,422.3 L242.5,421.2 L243.0,420.1 L243.5,419.0 L244.0,417.9 L244.5,416.9 L245.0,415.8 L245.5,414.8 L246.0,413.8 L246.5,412.8 L247.0,411.9 L247.5,410.9 L248.0,410.0 L248.5,409.1 L249.0,408.3 L249.5,407.4 L250.0,406.6 L250.5,405.8 L251.0,405.0 L251.5,404.3 L252.0,403.5 L252.5,402.8 L253.0,402.1 L253.5,401.4 L254.0,400.7 L254.5,400.1 L255.0,399.5 L255.5,398.8 L256.0,398.2 L256.5,397.6 L257.0,397.0 L257.5,396.5 L258.0,395.9 L258.5,395.4 L259.0,394.9 L259.5,394.3 L260.0,393.8 L260.5,393.3 L261.0,392.9 L261.5,392.4 L262.0,391.9 L262.5,391.5 L263.0,391.0 L263.5,390.6 L264.0,390.2 L264.5,389.8 L265.0,389.4 L265.5,389.0 L266.0,388.6 L266.5,388.3 L267.0,387.9 L267.5,387.6 L268.0,387.2 L268.5,386.9 L269.0,386.6 L269.5,386.3 L270.0,386.0 L270.5,385.7 L271.0,385.5 L271.5,385.2 L272.0,385.0 L272.5,384.7 L273.0,384.5 L273.5,384.2 L274.0,384.0 L274.5,383.8 L275.0,383.6 L275.5,383.4 L276.0,383.2 L276.5,383.0 L277.0,382.8 L277.5,382.6 L278.0,382.4 L278.5,382.3 L279.0,382.1 L279.5,381.9 L280.0,381.8 L280.5,381.6 L281.0,381.4 L281.5,381.3 L282.0,381.1 L282.5,381.0 L283.0,380.8 L283.5,380.7 L284.0,380.5 L284.5,380.4 L285.0,380.2 L285.5,380.1 L286.0,379.9 L286.5,379.8 L287.0,379.6 L287.5,379.5 L288.0,379.3 L288.5,379.2 L289.0,379.0 L289.5,378.8 L290.0,378.7 L290.5,378.5 L291.0,378.3 L291.5,378.2 L292.0,378.0 L292.5,377.8 L293.0,377.6 L293.5,377.4 L294.0,377.2 L294.5,377.0 L295.0,376.8 L295.5,376.6 L296.0,376.4 L296.5,376.2 L297.0,375.9 L297.5,375.7 L298.0,375.5 L298.5,375.2 L299.0,375.0 L299.5,374.7 L300.0,374.4 L300.5,374.2 L301.0,373.9 L301.5,373.6 L302.0,373.3 L302.5,373.0 L303.0,372.7 L303.5,372.4 L304.0,372.1 L304.5,371.8 L305.0,371.4 L305.5,371.1 L306.0,370.8 L306.5,370.4 L307.0,370.0 L307.5,369.7 L308.0,369.3 L308.5,368.9 L309.0,368.5 L309.5,368.1 L310.0,367.7 L310.5,367.2 L311.0,366.8 L311.5,366.4 L312.0,365.9 L312.5,365.4 L313.0,365.0 L313.5,364.5 L314.0,364.0 L314.5,363.5 L315.0,363.0 L315.5,362.5 L316.0,362.0 L316.5,361.4 L317.0,360.9 L317.5,360.4 L318.0,359.9 L318.5,359.3 L319.0,358.8 L319.5,358.3 L320.0,357.7 L320.5,357.2 L321.0,356.7 L321.5,356.2 L322.0,355.6 L322.5,355.1 L323.0,354.6 L323.5,354.1 L324.0,353.6 L324.5,353.1 L325.0,352.6 L325.5,352.1 L326.0,351.6 L326.5,351.2 L327.0,350.7 L327.5,350.2 L328.0,349.8 L328.5,349.4 L329.0,348.9 L329.5,348.5 L330.0,348.1 L330.5,347.8 L331.0,347.4 L331.5,347.1 L332.0,346.7 L332.5,346.4 L333.0,346.1 L333.5,345.8 L334.0,345.6 L334.5,345.3 L335.0,345.1 L335.5,344.9 L336.0,344.7 L336.5,344.5 L337.0,344.4 L337.5,344.3 L338.0,344.2 L338.5,344.1 L339.0,344.0 L339.5,344.0 L340.0,344.0 L340.5,344.1 L341.0,344.1 L341.5,344.2 L342.0,344.3 L342.5,344.5 L343.0,344.6 L343.5,344.8 L344.0,345.1 L344.5,345.3 L345.0,345.6 L345.5,346.0 L346.0,346.5 L346.5,347.0 L347.0,347.7 L347.5,348.3 L348.0,348.9 L348.5,349.5 L349.0,350.0 L349.5,350.6 L350.0,351.2 L350.5,351.8 L351.0,352.4 L351.5,353.2 L352.0,354.0 L352.5,354.9 L353.0,356.0 L353.5,357.0 L354.0,358.2 L354.5,359.4 L355.0,360.7 L355.5,362.0 L356.0,363.4 L356.5,364.8 L357.0,366.3 L357.5,367.8 L358.0,369.3 L358.5,370.8 L359.0,372.4 L359.5,374.0 L360.0,375.6 L360.5,377.2 L361.0,378.8 L361.5,380.4 L362.0,382.1 L362.5,383.7 L363.0,385.4 L363.5,387.1 L364.0,388.8 L364.5,390.5 L365.0,392.2 L365.5,393.9 L366.0,395.6 L366.5,397.4 L367.0,399.1 L367.5,400.9 L368.0,402.6 L368.5,404.4 L369.0,406.1 L369.5,407.9 L370.0,409.7 L370.5,411.5 L371.0,413.2 L371.5,415.0 L372.0,416.8 L372.5,418.6 L373.0,420.3 L373.5,422.1 L374.0,423.9 L374.5,425.6 L375.0,427.4 L375.5,429.2 L376.0,430.9 L376.5,432.6 L377.0,434.4 L377.5,436.1 L378.0,437.8 L378.5,439.5 L379.0,441.2 L379.5,442.9 L380.0,444.5 L380.5,446.2 L381.0,447.8 L381.5,449.4 L382.0,450.9 L382.5,452.5 L383.0,454.0 L383.5,455.5 L384.0,457.0 L384.5,458.5 L385.0,459.9 L385.5,461.3 L386.0,462.7 L386.5,464.0 L387.0,465.3 L387.5,466.6 L388.0,467.8 L388.5,469.0 L389.0,470.2 L389.5,471.3 L390.0,472.5 L390.5,473.5 L391.0,474.6 L391.5,475.6 L392.0,476.6 L392.5,477.6 L393.0,478.5 L393.5,479.4 L394.0,480.3 L394.5,481.1 L395.0,481.9 L395.5,482.7 L396.0,483.5 L396.5,484.2 L397.0,484.9 L397.5,485.6 L398.0,486.2 L398.5,486.8 L399.0,487.4 L399.5,487.9 L400.0,488.5 L400.5,489.0 L401.0,489.4 L401.5,489.9 L402.0,490.3 L402.5,490.6 L403.0,491.0 L403.5,491.3 L404.0,491.6 L404.5,491.9 L405.0,492.1 L405.5,492.3 L406.0,492.5 L406.5,492.6 L407.0,492.8 L407.5,492.9 L408.0,492.9 L408.5,493.0 L409.0,493.0 L409.5,493.0 L410.0,492.9 L410.5,492.9 L411.0,492.8" stroke="#ff8686"/>
</g>
<g clip-path="url(#cb)" fill="none" stroke-width="2.6" stroke-linejoin="round" stroke-linecap="round">
<path d="M486.5,497.8 L487.0,496.7 L487.5,495.8 L488.0,495.0 L488.5,494.3 L489.0,493.6 L489.5,493.3 L490.0,493.4 L490.5,493.9 L491.0,494.7 L491.5,496.1 L492.0,499.2 L492.5,501.0 L493.0,501.0 L493.5,501.0 L494.0,501.0 L494.5,501.0 L495.0,501.0 L495.5,501.0 L496.0,501.0 L496.5,501.0 L497.0,501.0 L497.5,501.0 L498.0,501.0 L498.5,501.0 L499.0,501.0 L499.5,501.0 L500.0,501.0 L500.5,501.0 L501.0,501.0 L501.5,501.0 L502.0,501.0 L502.5,501.0 L503.0,501.0 L503.5,501.0 L504.0,501.0 L504.5,501.0 L505.0,501.0 L505.5,501.0 L506.0,501.0 L506.5,501.0 L507.0,501.0 L507.5,500.4 L508.0,498.0 L508.5,496.0 L509.0,495.0 L509.5,494.3 L510.0,494.0 L510.5,494.3 L511.0,495.2 L511.5,496.3 L512.0,498.9 L512.5,501.0 L513.0,501.0 L513.5,501.0 L514.0,501.0 L514.5,501.0 L515.0,501.0 L515.5,501.0 L516.0,501.0 L516.5,501.0 L517.0,501.0 L517.5,501.0 L518.0,501.0 L518.5,501.0 L519.0,501.0 L519.5,501.0 L520.0,501.0 L520.5,501.0 L521.0,501.0 L521.5,501.0 L522.0,501.0 L522.5,501.0 L523.0,501.0 L523.5,501.0 L524.0,501.0 L524.5,501.0 L525.0,501.0 L525.5,501.0 L526.0,501.0 L526.5,501.0 L527.0,501.0 L527.5,501.0 L528.0,501.0 L528.5,501.0 L529.0,501.0 L529.5,501.0 L530.0,501.0 L530.5,501.0 L531.0,501.0 L531.5,500.5 L532.0,499.2 L532.5,497.6 L533.0,496.2 L533.5,495.2 L534.0,494.2 L534.5,493.4 L535.0,492.9 L535.5,492.7 L536.0,492.5 L536.5,492.3 L537.0,492.2 L537.5,492.0 L538.0,491.7 L538.5,491.5 L539.0,491.1 L539.5,490.8 L540.0,490.3 L540.5,489.8 L541.0,489.3 L541.5,488.5 L542.0,487.5 L542.5,486.4 L543.0,485.3 L543.5,484.1 L544.0,483.0 L544.5,481.7 L545.0,480.4 L545.5,479.1 L546.0,477.8 L546.5,476.5 L547.0,475.2 L547.5,473.9 L548.0,472.7 L548.5,471.7 L549.0,470.7 L549.5,469.7 L550.0,468.9 L550.5,468.3 L551.0,467.8 L551.5,467.4 L552.0,467.0 L552.5,466.6 L553.0,466.3 L553.5,466.0 L554.0,465.6 L554.5,465.4 L555.0,465.1 L555.5,464.9 L556.0,464.6 L556.5,464.2 L557.0,463.7 L557.5,463.0 L558.0,462.2 L558.5,461.6 L559.0,460.9 L559.5,460.4 L560.0,460.2 L560.5,461.0 L561.0,462.4 L561.5,463.8 L562.0,465.4 L562.5,466.9 L563.0,467.8 L563.5,468.5 L564.0,468.6 L564.5,468.5 L565.0,468.4 L565.5,468.4 L566.0,468.3 L566.5,468.4 L567.0,469.1 L567.5,470.2 L568.0,471.3 L568.5,472.5 L569.0,473.9 L569.5,475.3 L570.0,476.6 L570.5,477.7 L571.0,478.7 L571.5,479.6 L572.0,480.4 L572.5,481.1 L573.0,481.8 L573.5,482.5 L574.0,483.4 L574.5,484.5 L575.0,485.8 L575.5,487.2 L576.0,488.9 L576.5,491.0 L577.0,493.0 L577.5,494.4 L578.0,495.6 L578.5,497.6 L579.0,500.6 L579.5,501.0 L580.0,501.0 L580.5,501.0 L581.0,501.0 L581.5,501.0 L582.0,501.0 L582.5,501.0 L583.0,501.0 L583.5,501.0 L584.0,501.0 L584.5,501.0 L585.0,501.0 L585.5,501.0 L586.0,501.0 L586.5,501.0 L587.0,501.0 L587.5,501.0 L588.0,501.0 L588.5,501.0 L589.0,501.0 L589.5,501.0 L590.0,501.0 L590.5,501.0 L591.0,501.0 L591.5,501.0 L592.0,501.0 L592.5,501.0 L593.0,501.0 L593.5,501.0 L594.0,501.0 L594.5,501.0 L595.0,501.0 L595.5,501.0 L596.0,501.0 L596.5,501.0 L597.0,501.0 L597.5,501.0 L598.0,501.0 L598.5,501.0 L599.0,501.0 L599.5,501.0 L600.0,501.0 L600.5,501.0 L601.0,501.0 L601.5,501.0 L602.0,501.0 L602.5,501.0 L603.0,501.0 L603.5,501.0 L604.0,501.0 L604.5,501.0 L605.0,501.0 L605.5,501.0 L606.0,501.0 L606.5,501.0 L607.0,501.0 L607.5,501.0 L608.0,501.0 L608.5,501.0 L609.0,501.0 L609.5,500.1 L610.0,498.3 L610.5,496.7 L611.0,496.6 L611.5,498.1 L612.0,500.0 L612.5,501.0 L613.0,501.0 L613.5,501.0 L614.0,501.0 L614.5,501.0 L615.0,501.0 L615.5,501.0 L616.0,501.0 L616.5,501.0 L617.0,501.0 L617.5,501.0 L618.0,501.0 L618.5,501.0 L619.0,501.0 L619.5,501.0 L620.0,499.7 L620.5,497.2 L621.0,495.9 L621.5,496.0 L622.0,496.2 L622.5,496.5 L623.0,496.6 L623.5,496.5 L624.0,496.2 L624.5,496.0 L625.0,495.9 L625.5,496.0 L626.0,496.2 L626.5,496.4 L627.0,496.5 L627.5,496.4 L628.0,496.1 L628.5,495.7 L629.0,495.6 L629.5,495.7 L630.0,496.0 L630.5,496.4 L631.0,496.5 L631.5,496.4 L632.0,496.2 L632.5,495.9 L633.0,495.8 L633.5,495.8 L634.0,496.0 L634.5,496.1 L635.0,496.4 L635.5,497.7 L636.0,499.9 L636.5,501.0 L637.0,501.0 L637.5,501.0 L638.0,501.0 L638.5,500.7 L639.0,498.2 L639.5,495.4 L640.0,495.1 L640.5,497.6 L641.0,500.4 L641.5,501.0 L642.0,501.0 L642.5,501.0 L643.0,501.0 L643.5,501.0 L644.0,501.0 L644.5,501.0 L645.0,501.0 L645.5,501.0 L646.0,501.0 L646.5,501.0 L647.0,501.0 L647.5,501.0 L648.0,501.0 L648.5,501.0 L649.0,501.0 L649.5,501.0 L650.0,501.0 L650.5,501.0 L651.0,501.0 L651.5,501.0 L652.0,501.0 L652.5,501.0 L653.0,501.0 L653.5,501.0 L654.0,500.8 L654.5,499.0 L655.0,496.8 L655.5,496.0 L656.0,496.0 L656.5,496.0 L657.0,496.0 L657.5,496.0 L658.0,496.2 L658.5,498.3 L659.0,500.5 L659.5,501.0 L660.0,501.0 L660.5,501.0 L661.0,501.0 L661.5,501.0 L662.0,501.0 L662.5,501.0 L663.0,501.0 L663.5,501.0 L664.0,501.0 L664.5,501.0 L665.0,501.0 L665.5,501.0 L666.0,501.0 L666.5,501.0 L667.0,501.0 L667.5,501.0 L668.0,501.0 L668.5,501.0 L669.0,501.0 L669.5,501.0 L670.0,501.0 L670.5,501.0 L671.0,501.0 L671.5,501.0 L672.0,501.0 L672.5,501.0 L673.0,501.0 L673.5,501.0 L674.0,501.0 L674.5,501.0 L675.0,501.0 L675.5,501.0 L676.0,501.0 L676.5,501.0 L677.0,501.0 L677.5,501.0 L678.0,501.0 L678.5,501.0 L679.0,501.0 L679.5,500.4 L680.0,499.0 L680.5,497.2 L681.0,495.5 L681.5,493.3 L682.0,491.2 L682.5,490.0 L683.0,489.5 L683.5,489.2 L684.0,488.9 L684.5,488.7 L685.0,488.5 L685.5,488.2 L686.0,487.9 L686.5,487.5 L687.0,487.2 L687.5,486.8 L688.0,486.4 L688.5,485.9 L689.0,485.4 L689.5,484.8 L690.0,484.1 L690.5,483.3 L691.0,482.3 L691.5,481.3 L692.0,480.2 L692.5,479.1 L693.0,477.8 L693.5,476.4 L694.0,474.9 L694.5,473.3 L695.0,471.6 L695.5,469.8 L696.0,467.7 L696.5,465.5 L697.0,463.6 L697.5,462.3 L698.0,461.5 L698.5,460.7 L699.0,460.1 L699.5,459.4 L700.0,458.6 L700.5,457.5 L701.0,456.2 L701.5,454.8 L702.0,453.4 L702.5,452.1 L703.0,451.0 L703.5,450.0 L704.0,449.1 L704.5,448.2 L705.0,447.3 L705.5,446.5 L706.0,445.6 L706.5,444.6 L707.0,443.7 L707.5,442.8 L708.0,441.9 L708.5,441.0 L709.0,440.1 L709.5,439.1 L710.0,438.0 L710.5,437.2 L711.0,436.7 L711.5,436.7 L712.0,436.6 L712.5,436.6 L713.0,436.6 L713.5,436.6 L714.0,436.5 L714.5,436.4 L715.0,436.1 L715.5,435.8 L716.0,435.4 L716.5,435.1 L717.0,434.8 L717.5,434.7 L718.0,434.9 L718.5,435.5 L719.0,436.3 L719.5,437.1 L720.0,437.6 L720.5,437.9 L721.0,438.1 L721.5,438.3 L722.0,438.4 L722.5,438.6 L723.0,438.8 L723.5,439.2 L724.0,439.5 L724.5,440.0 L725.0,440.5 L725.5,441.1 L726.0,441.8 L726.5,442.5 L727.0,443.4 L727.5,444.5 L728.0,445.8 L728.5,447.3 L729.0,449.3 L729.5,451.7 L730.0,454.9 L730.5,459.2 L731.0,460.6 L731.5,461.5 L732.0,462.1 L732.5,462.6 L733.0,463.1 L733.5,463.7 L734.0,464.5 L734.5,465.7 L735.0,467.3 L735.5,469.0 L736.0,470.9 L736.5,472.6 L737.0,474.1 L737.5,475.5 L738.0,477.0 L738.5,478.4 L739.0,479.7 L739.5,480.6 L740.0,481.2 L740.5,481.5 L741.0,481.7 L741.5,481.8 L742.0,481.9 L742.5,482.0 L743.0,482.0 L743.5,482.2 L744.0,482.4 L744.5,482.7 L745.0,483.4 L745.5,484.5 L746.0,485.8 L746.5,487.1 L747.0,488.1 L747.5,488.8 L748.0,489.4 L748.5,489.8 L749.0,490.2 L749.5,490.5 L750.0,490.9 L750.5,491.3 L751.0,491.7 L751.5,492.2 L752.0,492.8 L752.5,493.3 L753.0,493.9 L753.5,494.6 L754.0,495.4 L754.5,496.3 L755.0,497.4 L755.5,499.3 L756.0,501.0 L756.5,501.0 L757.0,501.0 L757.5,501.0 L758.0,501.0 L758.5,501.0 L759.0,501.0 L759.5,501.0 L760.0,501.0 L760.5,501.0 L761.0,501.0 L761.5,501.0 L762.0,501.0 L762.5,501.0 L763.0,501.0 L763.5,501.0 L764.0,501.0 L764.5,501.0 L765.0,501.0 L765.5,501.0 L766.0,501.0 L766.5,501.0 L767.0,501.0 L767.5,501.0 L768.0,501.0 L768.5,501.0 L769.0,501.0 L769.5,501.0 L770.0,501.0 L770.5,501.0 L771.0,501.0 L771.5,501.0 L772.0,501.0 L772.5,501.0 L773.0,501.0 L773.5,501.0 L774.0,501.0 L774.5,501.0 L775.0,501.0 L775.5,501.0 L776.0,501.0 L776.5,501.0 L777.0,501.0 L777.5,501.0 L778.0,501.0 L778.5,501.0 L779.0,501.0 L779.5,501.0 L780.0,501.0 L780.5,501.0 L781.0,501.0 L781.5,501.0 L782.0,501.0 L782.5,501.0 L783.0,501.0 L783.5,501.0 L784.0,501.0 L784.5,501.0 L785.0,501.0 L785.5,501.0 L786.0,501.0 L786.5,501.0 L787.0,501.0 L787.5,501.0 L788.0,501.0 L788.5,501.0 L789.0,501.0 L789.5,501.0 L790.0,501.0 L790.5,501.0 L791.0,501.0 L791.5,501.0 L792.0,501.0 L792.5,501.0 L793.0,501.0 L793.5,501.0 L794.0,501.0 L794.5,501.0 L795.0,501.0 L795.5,501.0 L796.0,501.0 L796.5,501.0 L797.0,501.0 L797.5,501.0 L798.0,501.0 L798.5,501.0 L799.0,501.0 L799.5,501.0 L800.0,501.0 L800.5,501.0 L801.0,501.0 L801.5,501.0 L802.0,501.0 L802.5,501.0 L803.0,501.0 L803.5,501.0 L804.0,501.0 L804.5,501.0 L805.0,501.0 L805.5,501.0 L806.0,501.0 L806.5,501.0 L807.0,501.0 L807.5,501.0 L808.0,501.0 L808.5,501.0 L809.0,501.0 L809.5,501.0 L810.0,501.0 L810.5,501.0 L811.0,501.0 L811.5,501.0 L812.0,501.0 L812.5,501.0 L813.0,501.0 L813.5,501.0 L814.0,501.0 L814.5,501.0 L815.0,501.0 L815.5,501.0 L816.0,501.0 L816.5,501.0 L817.0,501.0 L817.5,501.0 L818.0,501.0 L818.5,501.0 L819.0,501.0 L819.5,501.0 L820.0,501.0 L820.5,501.0 L821.0,501.0 L821.5,501.0 L822.0,501.0 L822.5,501.0 L823.0,501.0 L823.5,501.0 L824.0,501.0 L824.5,501.0 L825.0,501.0 L825.5,501.0 L826.0,501.0" stroke="#0b4a6f"/>
<path d="M486.5,501.0 L487.0,501.0 L487.5,501.0 L488.0,501.0 L488.5,501.0 L489.0,501.0 L489.5,501.0 L490.0,501.0 L490.5,501.0 L491.0,501.0 L491.5,501.0 L492.0,501.0 L492.5,501.0 L493.0,501.0 L493.5,501.0 L494.0,501.0 L494.5,501.0 L495.0,501.0 L495.5,501.0 L496.0,501.0 L496.5,501.0 L497.0,501.0 L497.5,501.0 L498.0,501.0 L498.5,501.0 L499.0,501.0 L499.5,501.0 L500.0,501.0 L500.5,501.0 L501.0,501.0 L501.5,501.0 L502.0,501.0 L502.5,501.0 L503.0,501.0 L503.5,501.0 L504.0,501.0 L504.5,501.0 L505.0,501.0 L505.5,500.6 L506.0,497.8 L506.5,496.0 L507.0,495.0 L507.5,494.5 L508.0,495.0 L508.5,496.2 L509.0,498.7 L509.5,501.0 L510.0,501.0 L510.5,501.0 L511.0,501.0 L511.5,501.0 L512.0,501.0 L512.5,501.0 L513.0,501.0 L513.5,501.0 L514.0,501.0 L514.5,500.6 L515.0,497.9 L515.5,496.0 L516.0,497.9 L516.5,500.6 L517.0,501.0 L517.5,501.0 L518.0,501.0 L518.5,501.0 L519.0,501.0 L519.5,501.0 L520.0,501.0 L520.5,501.0 L521.0,501.0 L521.5,501.0 L522.0,501.0 L522.5,501.0 L523.0,501.0 L523.5,501.0 L524.0,501.0 L524.5,501.0 L525.0,501.0 L525.5,501.0 L526.0,501.0 L526.5,501.0 L527.0,501.0 L527.5,500.7 L528.0,500.0 L528.5,499.0 L529.0,498.0 L529.5,497.2 L530.0,496.5 L530.5,495.9 L531.0,495.3 L531.5,494.4 L532.0,493.4 L532.5,492.2 L533.0,490.9 L533.5,489.4 L534.0,487.6 L534.5,485.8 L535.0,484.3 L535.5,482.8 L536.0,481.4 L536.5,480.5 L537.0,480.4 L537.5,480.4 L538.0,480.4 L538.5,480.4 L539.0,480.3 L539.5,478.5 L540.0,475.4 L540.5,472.8 L541.0,470.4 L541.5,468.1 L542.0,465.8 L542.5,463.4 L543.0,461.1 L543.5,458.8 L544.0,456.4 L544.5,454.1 L545.0,451.7 L545.5,449.3 L546.0,447.0 L546.5,444.7 L547.0,442.4 L547.5,440.0 L548.0,437.6 L548.5,435.4 L549.0,433.6 L549.5,432.1 L550.0,430.8 L550.5,429.7 L551.0,428.8 L551.5,427.9 L552.0,426.8 L552.5,425.5 L553.0,424.0 L553.5,421.8 L554.0,417.7 L554.5,412.9 L555.0,410.0 L555.5,407.7 L556.0,406.3 L556.5,405.7 L557.0,405.2 L557.5,404.9 L558.0,404.5 L558.5,404.1 L559.0,403.5 L559.5,402.8 L560.0,402.2 L560.5,402.0 L561.0,402.3 L561.5,403.0 L562.0,403.8 L562.5,404.2 L563.0,404.0 L563.5,403.5 L564.0,402.8 L564.5,402.1 L565.0,401.6 L565.5,401.4 L566.0,402.4 L566.5,404.2 L567.0,406.3 L567.5,409.1 L568.0,411.7 L568.5,413.7 L569.0,415.6 L569.5,417.5 L570.0,420.0 L570.5,423.0 L571.0,426.1 L571.5,429.0 L572.0,431.5 L572.5,433.0 L573.0,434.0 L573.5,434.8 L574.0,435.5 L574.5,436.1 L575.0,436.5 L575.5,437.1 L576.0,438.1 L576.5,440.2 L577.0,442.5 L577.5,444.7 L578.0,447.0 L578.5,449.3 L579.0,451.5 L579.5,453.8 L580.0,456.3 L580.5,459.5 L581.0,463.1 L581.5,466.7 L582.0,470.2 L582.5,473.7 L583.0,477.4 L583.5,481.0 L584.0,483.9 L584.5,486.4 L585.0,488.7 L585.5,491.2 L586.0,491.7 L586.5,490.7 L587.0,489.6 L587.5,489.4 L588.0,489.4 L588.5,489.4 L589.0,489.4 L589.5,489.4 L590.0,489.5 L590.5,490.0 L591.0,490.8 L591.5,491.8 L592.0,493.4 L592.5,495.7 L593.0,498.5 L593.5,501.0 L594.0,501.0 L594.5,501.0 L595.0,501.0 L595.5,501.0 L596.0,501.0 L596.5,501.0 L597.0,501.0 L597.5,501.0 L598.0,501.0 L598.5,501.0 L599.0,501.0 L599.5,501.0 L600.0,501.0 L600.5,501.0 L601.0,501.0 L601.5,501.0 L602.0,501.0 L602.5,501.0 L603.0,501.0 L603.5,501.0 L604.0,501.0 L604.5,501.0 L605.0,501.0 L605.5,501.0 L606.0,501.0 L606.5,501.0 L607.0,501.0 L607.5,501.0 L608.0,501.0 L608.5,501.0 L609.0,501.0 L609.5,501.0 L610.0,501.0 L610.5,501.0 L611.0,501.0 L611.5,501.0 L612.0,501.0 L612.5,501.0 L613.0,501.0 L613.5,501.0 L614.0,501.0 L614.5,501.0 L615.0,501.0 L615.5,501.0 L616.0,501.0 L616.5,501.0 L617.0,501.0 L617.5,501.0 L618.0,501.0 L618.5,501.0 L619.0,501.0 L619.5,501.0 L620.0,501.0 L620.5,501.0 L621.0,501.0 L621.5,501.0 L622.0,501.0 L622.5,501.0 L623.0,501.0 L623.5,501.0 L624.0,501.0 L624.5,501.0 L625.0,501.0 L625.5,501.0 L626.0,501.0 L626.5,501.0 L627.0,501.0 L627.5,501.0 L628.0,501.0 L628.5,501.0 L629.0,501.0 L629.5,501.0 L630.0,501.0 L630.5,501.0 L631.0,501.0 L631.5,501.0 L632.0,501.0 L632.5,501.0 L633.0,501.0 L633.5,501.0 L634.0,501.0 L634.5,501.0 L635.0,501.0 L635.5,501.0 L636.0,501.0 L636.5,501.0 L637.0,501.0 L637.5,501.0 L638.0,501.0 L638.5,501.0 L639.0,501.0 L639.5,501.0 L640.0,501.0 L640.5,501.0 L641.0,501.0 L641.5,500.6 L642.0,497.8 L642.5,496.3 L643.0,495.6 L643.5,495.3 L644.0,495.6 L644.5,496.3 L645.0,497.7 L645.5,500.3 L646.0,501.0 L646.5,501.0 L647.0,501.0 L647.5,501.0 L648.0,501.0 L648.5,501.0 L649.0,501.0 L649.5,501.0 L650.0,501.0 L650.5,501.0 L651.0,501.0 L651.5,501.0 L652.0,501.0 L652.5,501.0 L653.0,501.0 L653.5,501.0 L654.0,501.0 L654.5,501.0 L655.0,501.0 L655.5,501.0 L656.0,501.0 L656.5,501.0 L657.0,501.0 L657.5,501.0 L658.0,501.0 L658.5,501.0 L659.0,501.0 L659.5,501.0 L660.0,501.0 L660.5,501.0 L661.0,498.5 L661.5,496.0 L662.0,496.4 L662.5,497.0 L663.0,497.4 L663.5,497.0 L664.0,496.2 L664.5,495.8 L665.0,496.2 L665.5,496.8 L666.0,497.2 L666.5,496.8 L667.0,496.2 L667.5,495.8 L668.0,496.2 L668.5,497.0 L669.0,497.4 L669.5,497.0 L670.0,496.4 L670.5,496.0 L671.0,496.4 L671.5,497.0 L672.0,497.4 L672.5,497.3 L673.0,497.0 L673.5,496.6 L674.0,494.1 L674.5,490.3 L675.0,488.5 L675.5,487.4 L676.0,486.5 L676.5,485.7 L677.0,484.8 L677.5,483.7 L678.0,482.6 L678.5,481.4 L679.0,480.2 L679.5,478.9 L680.0,477.6 L680.5,476.2 L681.0,474.7 L681.5,473.1 L682.0,471.5 L682.5,469.8 L683.0,468.1 L683.5,466.3 L684.0,464.4 L684.5,462.4 L685.0,460.3 L685.5,458.1 L686.0,455.6 L686.5,452.9 L687.0,450.1 L687.5,447.2 L688.0,444.2 L688.5,441.2 L689.0,438.3 L689.5,435.5 L690.0,432.8 L690.5,430.0 L691.0,427.3 L691.5,424.6 L692.0,422.0 L692.5,419.6 L693.0,417.2 L693.5,414.8 L694.0,412.2 L694.5,409.1 L695.0,405.8 L695.5,402.5 L696.0,399.6 L696.5,396.9 L697.0,394.4 L697.5,392.0 L698.0,389.6 L698.5,387.3 L699.0,385.2 L699.5,383.0 L700.0,380.6 L700.5,377.9 L701.0,374.9 L701.5,371.5 L702.0,367.4 L702.5,362.6 L703.0,358.5 L703.5,355.0 L704.0,351.7 L704.5,348.5 L705.0,345.0 L705.5,341.4 L706.0,338.1 L706.5,335.3 L707.0,333.3 L707.5,331.5 L708.0,329.6 L708.5,326.7 L709.0,322.9 L709.5,319.4 L710.0,317.2 L710.5,315.6 L711.0,314.4 L711.5,313.4 L712.0,312.6 L712.5,311.7 L713.0,310.5 L713.5,308.3 L714.0,306.0 L714.5,305.6 L715.0,305.6 L715.5,305.5 L716.0,305.5 L716.5,305.4 L717.0,305.0 L717.5,304.0 L718.0,302.8 L718.5,301.9 L719.0,301.1 L719.5,300.3 L720.0,299.7 L720.5,299.4 L721.0,299.5 L721.5,299.9 L722.0,300.3 L722.5,300.7 L723.0,300.9 L723.5,301.0 L724.0,301.1 L724.5,301.2 L725.0,301.4 L725.5,301.9 L726.0,303.1 L726.5,304.5 L727.0,306.2 L727.5,308.2 L728.0,310.1 L728.5,311.9 L729.0,313.7 L729.5,315.3 L730.0,316.8 L730.5,317.9 L731.0,318.9 L731.5,319.9 L732.0,321.3 L732.5,323.2 L733.0,325.7 L733.5,328.6 L734.0,332.9 L734.5,337.9 L735.0,341.0 L735.5,342.7 L736.0,343.9 L736.5,345.0 L737.0,346.3 L737.5,348.0 L738.0,349.9 L738.5,352.2 L739.0,355.3 L739.5,359.0 L740.0,362.1 L740.5,365.1 L741.0,368.2 L741.5,371.4 L742.0,374.5 L742.5,377.7 L743.0,380.7 L743.5,383.8 L744.0,386.9 L744.5,389.9 L745.0,392.8 L745.5,395.7 L746.0,398.4 L746.5,401.0 L747.0,403.8 L747.5,406.6 L748.0,409.6 L748.5,412.8 L749.0,416.0 L749.5,419.0 L750.0,421.8 L750.5,424.3 L751.0,426.9 L751.5,430.0 L752.0,434.0 L752.5,438.4 L753.0,442.8 L753.5,447.2 L754.0,450.2 L754.5,451.9 L755.0,453.1 L755.5,454.1 L756.0,455.2 L756.5,456.8 L757.0,459.9 L757.5,463.3 L758.0,464.7 L758.5,465.8 L759.0,466.6 L759.5,467.3 L760.0,468.1 L760.5,469.3 L761.0,471.0 L761.5,473.1 L762.0,475.3 L762.5,477.3 L763.0,479.4 L763.5,481.4 L764.0,483.1 L764.5,484.4 L765.0,485.3 L765.5,486.1 L766.0,487.0 L766.5,488.3 L767.0,491.0 L767.5,495.4 L768.0,498.9 L768.5,501.0 L769.0,501.0 L769.5,501.0 L770.0,501.0 L770.5,501.0 L771.0,501.0 L771.5,501.0 L772.0,501.0 L772.5,501.0 L773.0,501.0 L773.5,501.0 L774.0,501.0 L774.5,501.0 L775.0,501.0 L775.5,501.0 L776.0,501.0 L776.5,501.0 L777.0,501.0 L777.5,501.0 L778.0,501.0 L778.5,501.0 L779.0,501.0 L779.5,501.0 L780.0,501.0 L780.5,501.0 L781.0,501.0 L781.5,501.0 L782.0,501.0 L782.5,501.0 L783.0,501.0 L783.5,501.0 L784.0,501.0 L784.5,501.0 L785.0,501.0 L785.5,501.0 L786.0,501.0 L786.5,501.0 L787.0,501.0 L787.5,501.0 L788.0,501.0 L788.5,501.0 L789.0,501.0 L789.5,501.0 L790.0,501.0 L790.5,501.0 L791.0,501.0 L791.5,501.0 L792.0,501.0 L792.5,501.0 L793.0,501.0 L793.5,501.0 L794.0,501.0 L794.5,501.0 L795.0,501.0 L795.5,501.0 L796.0,501.0 L796.5,501.0 L797.0,501.0 L797.5,501.0 L798.0,501.0 L798.5,501.0 L799.0,501.0 L799.5,501.0 L800.0,501.0 L800.5,501.0 L801.0,501.0 L801.5,501.0 L802.0,501.0 L802.5,501.0 L803.0,501.0 L803.5,501.0 L804.0,501.0 L804.5,501.0 L805.0,501.0 L805.5,501.0 L806.0,501.0 L806.5,501.0 L807.0,501.0 L807.5,501.0 L808.0,501.0 L808.5,501.0 L809.0,501.0 L809.5,501.0 L810.0,501.0 L810.5,501.0 L811.0,501.0 L811.5,501.0 L812.0,501.0 L812.5,501.0 L813.0,501.0 L813.5,501.0 L814.0,501.0 L814.5,501.0 L815.0,501.0 L815.5,501.0 L816.0,501.0 L816.5,501.0 L817.0,501.0 L817.5,501.0 L818.0,501.0 L818.5,501.0 L819.0,501.0 L819.5,501.0 L820.0,501.0 L820.5,501.0 L821.0,501.0 L821.5,501.0 L822.0,501.0 L822.5,501.0 L823.0,501.0 L823.5,501.0 L824.0,501.0 L824.5,501.0 L825.0,501.0 L825.5,501.0 L826.0,501.0" stroke="#1486cb"/>
<path d="M486.5,501.0 L487.0,501.0 L487.5,501.0 L488.0,501.0 L488.5,501.0 L489.0,501.0 L489.5,501.0 L490.0,501.0 L490.5,501.0 L491.0,501.0 L491.5,501.0 L492.0,501.0 L492.5,501.0 L493.0,501.0 L493.5,499.9 L494.0,497.8 L494.5,496.4 L495.0,495.5 L495.5,494.9 L496.0,494.7 L496.5,495.1 L497.0,495.9 L497.5,496.8 L498.0,498.4 L498.5,500.2 L499.0,501.0 L499.5,501.0 L500.0,501.0 L500.5,501.0 L501.0,501.0 L501.5,501.0 L502.0,501.0 L502.5,501.0 L503.0,501.0 L503.5,501.0 L504.0,501.0 L504.5,501.0 L505.0,501.0 L505.5,501.0 L506.0,501.0 L506.5,501.0 L507.0,501.0 L507.5,501.0 L508.0,501.0 L508.5,501.0 L509.0,501.0 L509.5,501.0 L510.0,501.0 L510.5,501.0 L511.0,501.0 L511.5,501.0 L512.0,501.0 L512.5,500.9 L513.0,500.7 L513.5,500.4 L514.0,500.0 L514.5,499.5 L515.0,499.1 L515.5,498.6 L516.0,498.2 L516.5,497.8 L517.0,497.4 L517.5,497.0 L518.0,496.6 L518.5,496.2 L519.0,495.8 L519.5,495.4 L520.0,495.0 L520.5,494.6 L521.0,494.2 L521.5,493.7 L522.0,493.2 L522.5,492.7 L523.0,492.1 L523.5,491.5 L524.0,490.9 L524.5,490.2 L525.0,489.5 L525.5,488.7 L526.0,487.8 L526.5,486.9 L527.0,485.8 L527.5,484.6 L528.0,483.4 L528.5,482.1 L529.0,480.7 L529.5,479.3 L530.0,477.8 L530.5,476.2 L531.0,474.6 L531.5,472.8 L532.0,470.9 L532.5,468.9 L533.0,466.8 L533.5,464.5 L534.0,462.0 L534.5,459.4 L535.0,456.6 L535.5,453.6 L536.0,450.3 L536.5,446.4 L537.0,442.1 L537.5,438.9 L538.0,436.7 L538.5,434.8 L539.0,432.7 L539.5,430.0 L540.0,427.0 L540.5,423.8 L541.0,420.7 L541.5,417.7 L542.0,414.7 L542.5,411.7 L543.0,408.7 L543.5,405.7 L544.0,402.6 L544.5,399.6 L545.0,396.7 L545.5,393.8 L546.0,390.7 L546.5,386.9 L547.0,382.7 L547.5,379.4 L548.0,377.3 L548.5,375.7 L549.0,374.3 L549.5,372.8 L550.0,371.6 L550.5,370.5 L551.0,369.3 L551.5,367.9 L552.0,366.1 L552.5,363.7 L553.0,361.3 L553.5,359.2 L554.0,357.2 L554.5,355.3 L555.0,353.3 L555.5,351.0 L556.0,348.9 L556.5,347.2 L557.0,346.0 L557.5,344.9 L558.0,344.0 L558.5,343.3 L559.0,342.7 L559.5,342.2 L560.0,341.7 L560.5,341.3 L561.0,340.9 L561.5,340.7 L562.0,340.6 L562.5,340.7 L563.0,340.9 L563.5,341.2 L564.0,341.7 L564.5,342.2 L565.0,342.7 L565.5,343.4 L566.0,344.4 L566.5,345.6 L567.0,346.9 L567.5,348.4 L568.0,350.2 L568.5,352.2 L569.0,354.4 L569.5,356.6 L570.0,359.0 L570.5,361.5 L571.0,364.1 L571.5,367.1 L572.0,370.0 L572.5,372.4 L573.0,374.6 L573.5,376.7 L574.0,379.3 L574.5,382.3 L575.0,385.4 L575.5,388.4 L576.0,391.5 L576.5,394.8 L577.0,397.5 L577.5,398.2 L578.0,398.7 L578.5,399.0 L579.0,399.4 L579.5,400.0 L580.0,401.5 L580.5,403.9 L581.0,406.6 L581.5,409.1 L582.0,411.7 L582.5,414.4 L583.0,417.2 L583.5,419.8 L584.0,422.5 L584.5,425.2 L585.0,427.8 L585.5,430.6 L586.0,433.4 L586.5,436.0 L587.0,438.4 L587.5,440.6 L588.0,442.6 L588.5,444.6 L589.0,446.6 L589.5,448.4 L590.0,450.1 L590.5,451.9 L591.0,453.7 L591.5,455.7 L592.0,457.9 L592.5,460.4 L593.0,462.8 L593.5,465.0 L594.0,467.2 L594.5,469.2 L595.0,471.0 L595.5,472.4 L596.0,473.8 L596.5,475.0 L597.0,475.9 L597.5,476.7 L598.0,477.3 L598.5,477.8 L599.0,478.2 L599.5,478.6 L600.0,478.9 L600.5,479.2 L601.0,479.4 L601.5,479.6 L602.0,479.8 L602.5,479.9 L603.0,480.1 L603.5,480.3 L604.0,480.6 L604.5,481.0 L605.0,481.6 L605.5,482.4 L606.0,483.3 L606.5,484.2 L607.0,485.2 L607.5,486.3 L608.0,487.7 L608.5,489.0 L609.0,490.1 L609.5,490.9 L610.0,491.3 L610.5,491.7 L611.0,492.0 L611.5,492.2 L612.0,492.4 L612.5,492.4 L613.0,492.3 L613.5,492.1 L614.0,491.9 L614.5,491.7 L615.0,491.4 L615.5,491.2 L616.0,490.9 L616.5,490.7 L617.0,490.6 L617.5,490.5 L618.0,490.4 L618.5,490.4 L619.0,490.3 L619.5,490.2 L620.0,490.1 L620.5,490.0 L621.0,489.6 L621.5,489.0 L622.0,488.1 L622.5,487.2 L623.0,486.4 L623.5,485.8 L624.0,485.3 L624.5,484.9 L625.0,484.7 L625.5,484.6 L626.0,485.0 L626.5,485.6 L627.0,486.4 L627.5,487.2 L628.0,487.9 L628.5,488.4 L629.0,488.9 L629.5,489.4 L630.0,489.8 L630.5,490.0 L631.0,490.0 L631.5,489.7 L632.0,489.4 L632.5,488.9 L633.0,488.3 L633.5,487.5 L634.0,486.2 L634.5,484.7 L635.0,483.2 L635.5,482.2 L636.0,481.5 L636.5,480.8 L637.0,480.2 L637.5,479.7 L638.0,479.4 L638.5,479.2 L639.0,479.3 L639.5,479.6 L640.0,480.0 L640.5,480.5 L641.0,481.0 L641.5,481.4 L642.0,481.6 L642.5,481.5 L643.0,480.9 L643.5,480.0 L644.0,478.9 L644.5,477.8 L645.0,476.9 L645.5,476.4 L646.0,476.0 L646.5,475.6 L647.0,475.3 L647.5,474.9 L648.0,474.5 L648.5,473.9 L649.0,473.2 L649.5,472.4 L650.0,471.5 L650.5,470.6 L651.0,469.7 L651.5,468.8 L652.0,468.0 L652.5,467.2 L653.0,466.4 L653.5,465.6 L654.0,464.9 L654.5,464.1 L655.0,463.4 L655.5,462.8 L656.0,462.2 L656.5,461.7 L657.0,461.2 L657.5,460.7 L658.0,460.2 L658.5,459.6 L659.0,459.0 L659.5,458.3 L660.0,457.4 L660.5,456.2 L661.0,454.9 L661.5,453.4 L662.0,451.9 L662.5,450.3 L663.0,448.5 L663.5,446.5 L664.0,444.3 L664.5,442.2 L665.0,440.3 L665.5,438.8 L666.0,437.4 L666.5,436.2 L667.0,435.0 L667.5,433.8 L668.0,432.6 L668.5,431.3 L669.0,429.9 L669.5,428.4 L670.0,426.8 L670.5,425.2 L671.0,423.5 L671.5,421.6 L672.0,419.5 L672.5,417.2 L673.0,414.5 L673.5,411.3 L674.0,408.0 L674.5,404.8 L675.0,401.4 L675.5,398.0 L676.0,394.7 L676.5,391.8 L677.0,389.2 L677.5,386.7 L678.0,383.9 L678.5,380.6 L679.0,376.5 L679.5,372.3 L680.0,368.6 L680.5,365.5 L681.0,362.5 L681.5,359.3 L682.0,355.8 L682.5,352.1 L683.0,348.5 L683.5,345.1 L684.0,341.8 L684.5,338.6 L685.0,335.4 L685.5,332.1 L686.0,328.8 L686.5,325.6 L687.0,322.3 L687.5,318.9 L688.0,315.4 L688.5,311.7 L689.0,308.1 L689.5,304.5 L690.0,301.1 L690.5,297.7 L691.0,294.4 L691.5,290.8 L692.0,286.7 L692.5,282.7 L693.0,279.4 L693.5,276.2 L694.0,273.0 L694.5,269.6 L695.0,265.8 L695.5,262.0 L696.0,258.4 L696.5,255.0 L697.0,251.8 L697.5,248.7 L698.0,245.6 L698.5,242.6 L699.0,239.7 L699.5,236.8 L700.0,234.0 L700.5,231.2 L701.0,228.1 L701.5,224.9 L702.0,221.7 L702.5,219.0 L703.0,216.6 L703.5,214.3 L704.0,212.2 L704.5,210.2 L705.0,208.3 L705.5,206.4 L706.0,204.8 L706.5,203.4 L707.0,202.3 L707.5,201.4 L708.0,200.6 L708.5,199.7 L709.0,198.7 L709.5,197.4 L710.0,195.6 L710.5,193.4 L711.0,191.3 L711.5,189.4 L712.0,187.6 L712.5,185.9 L713.0,184.5 L713.5,183.3 L714.0,182.2 L714.5,181.3 L715.0,180.6 L715.5,180.1 L716.0,179.8 L716.5,179.5 L717.0,179.3 L717.5,179.1 L718.0,179.0 L718.5,179.0 L719.0,179.1 L719.5,179.3 L720.0,179.6 L720.5,179.9 L721.0,180.5 L721.5,181.7 L722.0,183.4 L722.5,185.1 L723.0,186.4 L723.5,187.6 L724.0,188.7 L724.5,189.8 L725.0,190.9 L725.5,191.9 L726.0,192.9 L726.5,193.8 L727.0,194.8 L727.5,195.9 L728.0,197.2 L728.5,198.6 L729.0,200.2 L729.5,202.1 L730.0,204.3 L730.5,206.7 L731.0,209.3 L731.5,211.9 L732.0,214.5 L732.5,217.2 L733.0,219.9 L733.5,222.4 L734.0,224.9 L734.5,227.7 L735.0,231.4 L735.5,236.4 L736.0,241.2 L736.5,244.8 L737.0,247.7 L737.5,250.5 L738.0,253.4 L738.5,256.7 L739.0,260.3 L739.5,264.1 L740.0,267.9 L740.5,271.5 L741.0,275.2 L741.5,278.9 L742.0,282.5 L742.5,286.1 L743.0,289.7 L743.5,293.5 L744.0,297.3 L744.5,301.2 L745.0,305.3 L745.5,309.7 L746.0,314.3 L746.5,318.9 L747.0,323.8 L747.5,328.7 L748.0,333.4 L748.5,337.5 L749.0,341.4 L749.5,345.3 L750.0,349.6 L750.5,354.5 L751.0,359.4 L751.5,364.1 L752.0,367.9 L752.5,371.3 L753.0,374.5 L753.5,377.5 L754.0,380.7 L754.5,383.9 L755.0,387.2 L755.5,390.4 L756.0,393.7 L756.5,397.0 L757.0,400.4 L757.5,403.8 L758.0,407.1 L758.5,410.2 L759.0,413.1 L759.5,415.9 L760.0,418.8 L760.5,422.0 L761.0,425.7 L761.5,429.8 L762.0,434.1 L762.5,438.7 L763.0,443.4 L763.5,447.8 L764.0,452.0 L764.5,456.0 L765.0,459.6 L765.5,462.9 L766.0,466.0 L766.5,468.8 L767.0,471.5 L767.5,474.1 L768.0,476.4 L768.5,477.9 L769.0,479.0 L769.5,479.9 L770.0,480.7 L770.5,481.3 L771.0,482.0 L771.5,482.6 L772.0,483.3 L772.5,483.8 L773.0,484.3 L773.5,484.9 L774.0,485.5 L774.5,486.3 L775.0,487.1 L775.5,488.1 L776.0,489.1 L776.5,490.3 L777.0,491.5 L777.5,492.9 L778.0,494.4 L778.5,496.0 L779.0,497.6 L779.5,499.7 L780.0,501.0 L780.5,501.0 L781.0,501.0 L781.5,501.0 L782.0,501.0 L782.5,501.0 L783.0,501.0 L783.5,501.0 L784.0,501.0 L784.5,501.0 L785.0,501.0 L785.5,501.0 L786.0,501.0 L786.5,501.0 L787.0,501.0 L787.5,501.0 L788.0,501.0 L788.5,501.0 L789.0,501.0 L789.5,501.0 L790.0,501.0 L790.5,501.0 L791.0,501.0 L791.5,501.0 L792.0,501.0 L792.5,501.0 L793.0,501.0 L793.5,501.0 L794.0,501.0 L794.5,501.0 L795.0,501.0 L795.5,501.0 L796.0,501.0 L796.5,501.0 L797.0,501.0 L797.5,501.0 L798.0,501.0 L798.5,501.0 L799.0,501.0 L799.5,501.0 L800.0,501.0 L800.5,501.0 L801.0,501.0 L801.5,501.0 L802.0,501.0 L802.5,501.0 L803.0,501.0 L803.5,501.0 L804.0,501.0 L804.5,501.0 L805.0,501.0 L805.5,501.0 L806.0,501.0 L806.5,501.0 L807.0,501.0 L807.5,501.0 L808.0,501.0 L808.5,501.0 L809.0,501.0 L809.5,501.0 L810.0,501.0 L810.5,501.0 L811.0,501.0 L811.5,501.0 L812.0,501.0 L812.5,501.0 L813.0,501.0 L813.5,501.0 L814.0,501.0 L814.5,501.0 L815.0,501.0 L815.5,501.0 L816.0,501.0 L816.5,501.0 L817.0,501.0 L817.5,501.0 L818.0,501.0 L818.5,501.0 L819.0,501.0 L819.5,501.0 L820.0,501.0 L820.5,501.0 L821.0,501.0 L821.5,501.0 L822.0,501.0 L822.5,501.0 L823.0,501.0 L823.5,501.0 L824.0,501.0 L824.5,501.0 L825.0,501.0 L825.5,501.0 L826.0,501.0" stroke="#80d3ff"/>
</g>
<rect x="70" y="5" width="30.8" height="46.4" fill="#000"/>
<rect x="485" y="7" width="30.6" height="46.4" fill="#000"/>
<path d="M80.2,26.2C80.8,23.8 83,22.6 85.7,22.6C89,22.6 90.9,24.2 90.9,27V35.4C90.9,36.8 91.8,37.3 93.9,37.2M90.9,29.5H87C81.5,29.6 78.4,31.5 78.4,34.5C78.4,36.6 80.3,37.8 83.4,37.8C87,37.8 90.9,36 90.9,33" fill="none" stroke="#fff" stroke-width="1.6" stroke-linecap="round"/>
<path d="M491.6,20H494.7V38.8H491.6" fill="none" stroke="#fff" stroke-width="1.6" stroke-linecap="round" stroke-linejoin="miter"/><circle cx="501.6" cy="32.4" r="6.9" fill="none" stroke="#fff" stroke-width="1.6"/>
<text transform="translate(89.2,533.2) scale(0.975,1)" font-size="34.2" text-anchor="middle" letter-spacing="0.4">2.0</text>
<text transform="translate(156.95,533.2) scale(0.975,1)" font-size="34.2" text-anchor="middle" letter-spacing="0.4">2.2</text>
<text transform="translate(224.7,533.2) scale(0.975,1)" font-size="34.2" text-anchor="middle" letter-spacing="0.4">2.4</text>
<text transform="translate(292.45,533.2) scale(0.975,1)" font-size="34.2" text-anchor="middle" letter-spacing="0.4">2.6</text>
<text transform="translate(360.2,533.2) scale(0.975,1)" font-size="34.2" text-anchor="middle" letter-spacing="0.4">2.8</text>
<text transform="translate(199.3,570.6) scale(0.975,1)" font-size="34.2"><tspan font-style="italic">B</tspan><tspan font-style="italic" font-size="25" dy="12.3" dx="0.8">z</tspan><tspan dy="-12.3" dx="-1"> (T)</tspan></text>
<text transform="translate(504.2,535.2) scale(0.975,1)" font-size="34.2" text-anchor="middle" letter-spacing="0.4">2.0</text>
<text transform="translate(571.95,535.2) scale(0.975,1)" font-size="34.2" text-anchor="middle" letter-spacing="0.4">2.2</text>
<text transform="translate(639.7,535.2) scale(0.975,1)" font-size="34.2" text-anchor="middle" letter-spacing="0.4">2.4</text>
<text transform="translate(707.45,535.2) scale(0.975,1)" font-size="34.2" text-anchor="middle" letter-spacing="0.4">2.6</text>
<text transform="translate(775.2,535.2) scale(0.975,1)" font-size="34.2" text-anchor="middle" letter-spacing="0.4">2.8</text>
<text transform="translate(614.3,572.6) scale(0.975,1)" font-size="34.2"><tspan font-style="italic">B</tspan><tspan font-style="italic" font-size="25" dy="12.3" dx="0.8">z</tspan><tspan dy="-12.3" dx="-1"> (T)</tspan></text>
<text transform="translate(66,506.5) scale(0.975,1)" font-size="34.2" text-anchor="end">0</text>
<text transform="translate(66,289.2) scale(0.975,1)" font-size="34.2" text-anchor="end">1</text>
<text transform="translate(66,72.0) scale(0.975,1)" font-size="34.2" text-anchor="end">2</text>
<text transform="translate(481,506.5) scale(0.975,1)" font-size="34.2" text-anchor="end">0</text>
<text transform="translate(481,337.3) scale(0.975,1)" font-size="34.2" text-anchor="end">2</text>
<text transform="translate(481,168.1) scale(0.975,1)" font-size="34.2" text-anchor="end">4</text>
<text transform="translate(27.6,307.2) rotate(-90)" font-size="33" fill="#cc0000"><tspan font-style="italic">R</tspan><tspan font-style="italic" font-size="21.5" dy="9.5" dx="0.5">xx</tspan><tspan dy="-9.5" dx="1.5"> (kΩ)</tspan></text>
<text transform="translate(442.7,297.2) rotate(-90)" font-size="33" fill="#1e96dc"><tspan font-style="italic">R</tspan><tspan font-style="italic" font-size="21.5" dy="9.5" dx="0.5">yy</tspan><tspan dy="-9.5" dx="1.5"> (Ω)</tspan></text>
<path d="M110.3,99.0H171.7" stroke="#c80000" stroke-width="2.8" stroke-linecap="round"/>
<text transform="translate(187.8,110.6) scale(0.975,1)" font-size="34.2" word-spacing="1.2">0.3 K</text>
<path d="M110.3,137.3H171.7" stroke="#fa3838" stroke-width="2.8" stroke-linecap="round"/>
<text transform="translate(187.8,148.9) scale(0.975,1)" font-size="34.2" word-spacing="1.2">0.9 K</text>
<path d="M110.3,175.6H171.7" stroke="#ff8686" stroke-width="2.8" stroke-linecap="round"/>
<text transform="translate(187.8,187.2) scale(0.975,1)" font-size="34.2" word-spacing="1.2">1.5 K</text>
<path d="M524.9,101.5H586.3" stroke="#0b4a6f" stroke-width="2.8" stroke-linecap="round"/>
<text transform="translate(602.4000000000001,113.0) scale(0.975,1)" font-size="34.2" word-spacing="1.2">0.3 K</text>
<path d="M524.9,139.8H586.3" stroke="#1486cb" stroke-width="2.8" stroke-linecap="round"/>
<text transform="translate(602.4000000000001,151.3) scale(0.975,1)" font-size="34.2" word-spacing="1.2">0.9 K</text>
<path d="M524.9,178.1H586.3" stroke="#80d3ff" stroke-width="2.8" stroke-linecap="round"/>
<text transform="translate(602.4000000000001,189.7) scale(0.975,1)" font-size="34.2" word-spacing="1.2">1.5 K</text>
<text transform="translate(294.2,66) scale(0.975,1)" font-size="34.2" font-style="italic">θ</text><path d="M319.8,58.0C322.18,52.12 325.84,52.38 328.95,56.0S335.72,59.88 338.1,54.00M319.8,62.6H338.1" stroke="#000" stroke-width="1.75" fill="none"/><text transform="translate(338.2,66) scale(0.975,1)" font-size="34.2" letter-spacing="0.9">72°</text>
<text transform="translate(709.2,68.5) scale(0.975,1)" font-size="34.2" font-style="italic">θ</text><path d="M734.8,60.5C737.18,54.62 740.84,54.88 743.95,58.5S750.72,62.38 753.0999999999999,56.50M734.8,65.1H753.0999999999999" stroke="#000" stroke-width="1.75" fill="none"/><text transform="translate(753.2,68.5) scale(0.975,1)" font-size="34.2" letter-spacing="0.9">72°</text>
<text transform="translate(307.5,163.5) scale(0.975,1)" font-size="34.2" text-anchor="middle" fill="#009a00" letter-spacing="0.8">9/2</text>
<text transform="translate(144,245.9) scale(0.975,1)" font-size="34.2" text-anchor="middle" fill="#009a00" letter-spacing="0.8">11/2</text>
<text transform="translate(719,158.5) scale(0.975,1)" font-size="34.2" text-anchor="middle" fill="#009a00" letter-spacing="0.8">9/2</text>
<text transform="translate(559,319.2) scale(0.975,1)" font-size="34.2" text-anchor="middle" fill="#009a00" letter-spacing="0.8">11/2</text>
<path d="M304.4,223.2V245.6M298.0,239.6L304.4,246.2L310.79999999999995,239.6" stroke="#a80008" stroke-width="1.85" fill="none" stroke-linejoin="miter"/>
<path d="M301.8,337.8V360.0M295.40000000000003,354.0L301.8,360.6L308.2,354.0" stroke="#ff1c1c" stroke-width="1.85" fill="none" stroke-linejoin="miter"/>
<path d="M719.4,245.7V223.6M713.0,229.6L719.4,223.0L725.8,229.6" stroke="#1aa0f2" stroke-width="1.85" fill="none" stroke-linejoin="miter"/>
<path d="M717.0,403.6V381.40000000000003M710.6,387.40000000000003L717.0,380.8L723.4,387.40000000000003" stroke="#0b4568" stroke-width="1.85" fill="none" stroke-linejoin="miter"/>
</svg>
</body></html>
